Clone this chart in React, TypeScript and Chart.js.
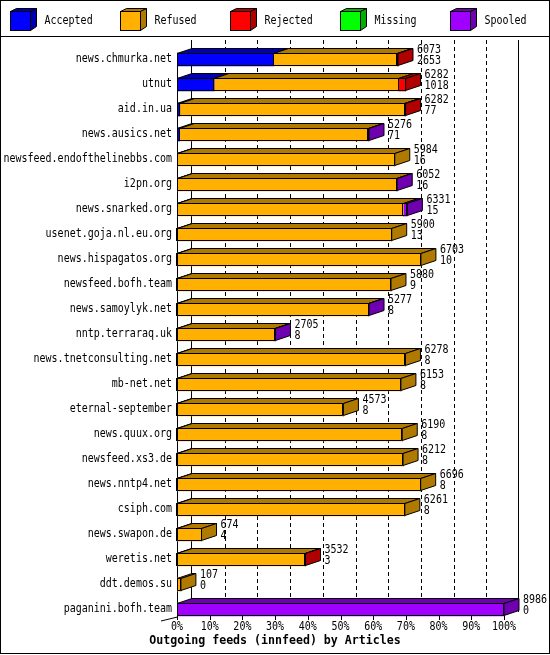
import React, { useEffect, useRef } from "react";
import { Chart, registerables } from "chart.js";

Chart.register(...registerables);

// ---------- data ----------
const feeds = [
  "news.chmurka.net",
  "utnut",
  "aid.in.ua",
  "news.ausics.net",
  "newsfeed.endofthelinebbs.com",
  "i2pn.org",
  "news.snarked.org",
  "usenet.goja.nl.eu.org",
  "news.hispagatos.org",
  "newsfeed.bofh.team",
  "news.samoylyk.net",
  "nntp.terraraq.uk",
  "news.tnetconsulting.net",
  "mb-net.net",
  "eternal-september",
  "news.quux.org",
  "newsfeed.xs3.de",
  "news.nntp4.net",
  "csiph.com",
  "news.swapon.de",
  "weretis.net",
  "ddt.demos.su",
  "paganini.bofh.team",
];
const offered = [6073, 6282, 6282, 5276, 5984, 6052, 6331, 5900, 6703, 5880, 5277, 2705, 6278, 6153, 4573, 6190, 6212, 6696, 6261, 674, 3532, 107, 8986];
const accepted = [2653, 1018, 77, 71, 16, 16, 15, 13, 10, 9, 8, 8, 8, 8, 8, 8, 8, 8, 8, 4, 3, 0, 0];
const rejected = [20, 190, 30, 0, 0, 0, 0, 0, 0, 0, 0, 0, 0, 0, 0, 0, 0, 0, 0, 0, 10, 0, 0];
const missing = [0, 0, 0, 0, 0, 0, 0, 0, 0, 0, 0, 0, 0, 0, 0, 0, 0, 0, 0, 0, 0, 0, 0];
const spooled = [0, 0, 0, 15, 0, 10, 110, 0, 0, 0, 10, 10, 0, 0, 0, 0, 0, 0, 0, 0, 0, 0, 8986];
const refused = offered.map((t, i) => t - accepted[i] - rejected[i] - missing[i] - spooled[i]);

const seriesNames = ["Accepted", "Refused", "Rejected", "Missing", "Spooled"];
const seriesColors = ["#0000ff", "#ffb000", "#ff0000", "#00ff00", "#a000ff"];
const seriesValues = [accepted, refused, rejected, missing, spooled];
const tickPercents = [0, 10, 20, 30, 40, 50, 60, 70, 80, 90, 100];
const titleText = "Outgoing feeds (innfeed) by Articles";

const maxTotal = Math.max(...offered);

// ---------- helpers ----------
const DX = 15;
const DY = 5;
const FONT = '10px "DejaVu Sans Mono", "Liberation Mono", monospace';
const TALL = 1.2;

function darken(hex: string, f = 0.69) {
  const n = parseInt(hex.slice(1), 16);
  const r = Math.round(((n >> 16) & 255) * f);
  const g = Math.round(((n >> 8) & 255) * f);
  const b = Math.round((n & 255) * f);
  return `rgb(${r},${g},${b})`;
}

function text(ctx: CanvasRenderingContext2D, s: string, x: number, y: number, sy = TALL) {
  ctx.save();
  ctx.translate(x, y);
  ctx.scale(1, sy);
  ctx.fillText(s, 0, 0);
  ctx.restore();
}

function poly(ctx: CanvasRenderingContext2D, pts: number[][], fill: string) {
  ctx.beginPath();
  ctx.moveTo(pts[0][0], pts[0][1]);
  for (let i = 1; i < pts.length; i++) ctx.lineTo(pts[i][0], pts[i][1]);
  ctx.closePath();
  ctx.fillStyle = fill;
  ctx.fill();
  ctx.strokeStyle = "#000";
  ctx.lineWidth = 1;
  ctx.stroke();
}

const threeD = {
  id: "threeD",
  beforeDraw(chart: any) {
    const ctx = chart.ctx;
    ctx.save();
    ctx.fillStyle = "#fff";
    ctx.fillRect(0, 0, chart.width, chart.height);
    ctx.restore();
  },
  beforeDatasetsDraw(chart: any) {
    const ctx: CanvasRenderingContext2D = chart.ctx;
    const xs = chart.scales.x;
    const backTop = 40;
    const backBottom = 612;
    ctx.save();
    ctx.strokeStyle = "#000";
    ctx.lineWidth = 1;
    // dashed grid on back plane
    ctx.setLineDash([4, 3]);
    for (const p of tickPercents) {
      if (p === 0 || p === 100) continue;
      const x = Math.round(xs.getPixelForValue(p)) + DX + 0.5;
      ctx.beginPath();
      ctx.moveTo(x, backTop);
      ctx.lineTo(x, backBottom);
      ctx.stroke();
    }
    ctx.setLineDash([]);
    // solid back plane borders
    for (const p of [0, 100]) {
      const x = Math.round(xs.getPixelForValue(p)) + DX - 0.5;
      ctx.beginPath();
      ctx.moveTo(x, backTop);
      ctx.lineTo(x, backBottom);
      ctx.stroke();
    }
    // front left axis
    const fx = Math.round(xs.getPixelForValue(0)) + 0.5;
    ctx.beginPath();
    ctx.moveTo(fx, chart.chartArea.top + 6);
    ctx.lineTo(fx, 617);
    ctx.lineTo(161, 621);
    ctx.stroke();
    ctx.restore();
  },
  afterDatasetsDraw(chart: any) {
    const ctx: CanvasRenderingContext2D = chart.ctx;
    const metas = seriesValues.map((_, d) => chart.getDatasetMeta(d));
    ctx.save();
    ctx.lineWidth = 1;
    ctx.strokeStyle = "#000";
    for (let i = 0; i < feeds.length; i++) {
      const segs: { l: number; r: number; color: string; v: number }[] = [];
      let cy = 0;
      let h = 13;
      for (let d = 0; d < metas.length; d++) {
        const el: any = metas[d].data[i];
        if (!el) continue;
        cy = el.y;
        h = el.height;
        segs.push({ l: Math.min(el.base, el.x), r: Math.max(el.base, el.x), color: seriesColors[d], v: seriesValues[d][i] });
      }
      const top = cy - h / 2;
      const bot = cy + h / 2;
      const nz = segs.filter((s) => s.v > 0);
      if (!nz.length) continue;
      const L = nz[0].l;
      const R = nz[nz.length - 1].r;
      // top faces
      for (const s of nz) {
        poly(ctx, [[s.l, top + 0.5], [s.l + DX, top - DY + 0.5], [s.r + DX, top - DY + 0.5], [s.r, top + 0.5]], darken(s.color));
      }
      // side face
      const last = nz[nz.length - 1];
      poly(ctx, [[R, top + 0.5], [R + DX, top - DY + 0.5], [R + DX, bot - DY - 0.5], [R, bot - 0.5]], darken(last.color));
      // front outline
      ctx.beginPath();
      ctx.rect(Math.round(L) + 0.5, top + 0.5, Math.max(0, Math.round(R) - Math.round(L) - 1), h - 1);
      ctx.stroke();
      for (let k = 1; k < nz.length; k++) {
        const x = Math.round(nz[k].l) - 0.5;
        ctx.beginPath();
        ctx.moveTo(x, top);
        ctx.lineTo(x, bot);
        ctx.stroke();
      }
      // value labels
      ctx.fillStyle = "#000";
      ctx.font = FONT;
      ctx.textAlign = "left";
      ctx.textBaseline = "middle";
      text(ctx, String(offered[i]), R + DX + 4, cy - 9.5);
      text(ctx, String(accepted[i]), R + DX + 4, cy + 1.5);
    }
    ctx.restore();
  },
  afterDraw(chart: any) {
    const ctx: CanvasRenderingContext2D = chart.ctx;
    const xs = chart.scales.x;
    const ys = chart.scales.y;
    ctx.save();
    ctx.fillStyle = "#000";
    ctx.strokeStyle = "#000";
    ctx.lineWidth = 1;
    ctx.font = FONT;
    // category labels
    ctx.textAlign = "right";
    ctx.textBaseline = "middle";
    feeds.forEach((f, i) => {
      text(ctx, f, 172, ys.getPixelForValue(i) - 0.5);
    });
    // x ticks
    ctx.textAlign = "center";
    for (const p of tickPercents) {
      const px = xs.getPixelForValue(p);
      const x = Math.round(px) + 0.5;
      ctx.beginPath();
      ctx.moveTo(x, 616);
      ctx.lineTo(x, 620);
      ctx.stroke();
      text(ctx, p + "%", px, 627);
    }
    // title
    ctx.font = 'bold 11.6px "DejaVu Sans Mono", "Liberation Mono", monospace';
    text(ctx, titleText, 275, 641, 1.1);
    // legend
    ctx.font = FONT;
    ctx.textAlign = "left";
    seriesNames.forEach((name, k) => {
      const bx = 10 + 110 * k;
      const by = 11;
      const w = 20;
      const hh = 19;
      const c = seriesColors[k];
      poly(ctx, [[bx + 0.5, by + 0.5], [bx + 6.5, by - 2.5], [bx + w + 6.5, by - 2.5], [bx + w + 0.5, by + 0.5]], darken(c));
      poly(ctx, [[bx + w + 0.5, by + 0.5], [bx + w + 6.5, by - 2.5], [bx + w + 6.5, by + hh - 3.5], [bx + w + 0.5, by + hh + 0.5]], darken(c));
      ctx.fillStyle = c;
      ctx.fillRect(bx, by, w, hh);
      ctx.strokeRect(bx + 0.5, by + 0.5, w, hh);
      ctx.fillStyle = "#000";
      text(ctx, name, bx + 34.5, 21);
    });
    // separator and frame
    ctx.beginPath();
    ctx.moveTo(0, 36.5);
    ctx.lineTo(550, 36.5);
    ctx.stroke();
    ctx.strokeRect(0.5, 0.5, 549, 653);
    ctx.restore();
  },
};

export default function App() {
  const ref = useRef<HTMLCanvasElement | null>(null);
  useEffect(() => {
    if (!ref.current) return;
    const chart = new Chart(ref.current, {
      type: "bar",
      data: {
        labels: feeds,
        datasets: seriesNames.map((name, d) => ({
          label: name,
          data: seriesValues[d].map((v) => (v / maxTotal) * 100),
          backgroundColor: seriesColors[d],
          borderWidth: 0,
          barThickness: 13,
          stack: "s",
        })),
      },
      options: {
        indexAxis: "y",
        responsive: false,
        animation: false,
        events: [],
        layout: { padding: { left: 177, right: 46, top: 47, bottom: 33 } },
        scales: {
          x: { display: false, stacked: true, min: 0, max: 100 },
          y: { display: false, stacked: true, offset: true },
        },
        plugins: {
          legend: { display: false },
          tooltip: { enabled: false },
          title: { display: false },
        },
      } as any,
      plugins: [threeD as any],
    });
    return () => chart.destroy();
  }, []);
  return (
    <div style={{ position: "absolute", left: 0, top: 0, width: 550, height: 655 }}>
      <canvas ref={ref} width={550} height={655} style={{ display: "block" }} />
    </div>
  );
}
